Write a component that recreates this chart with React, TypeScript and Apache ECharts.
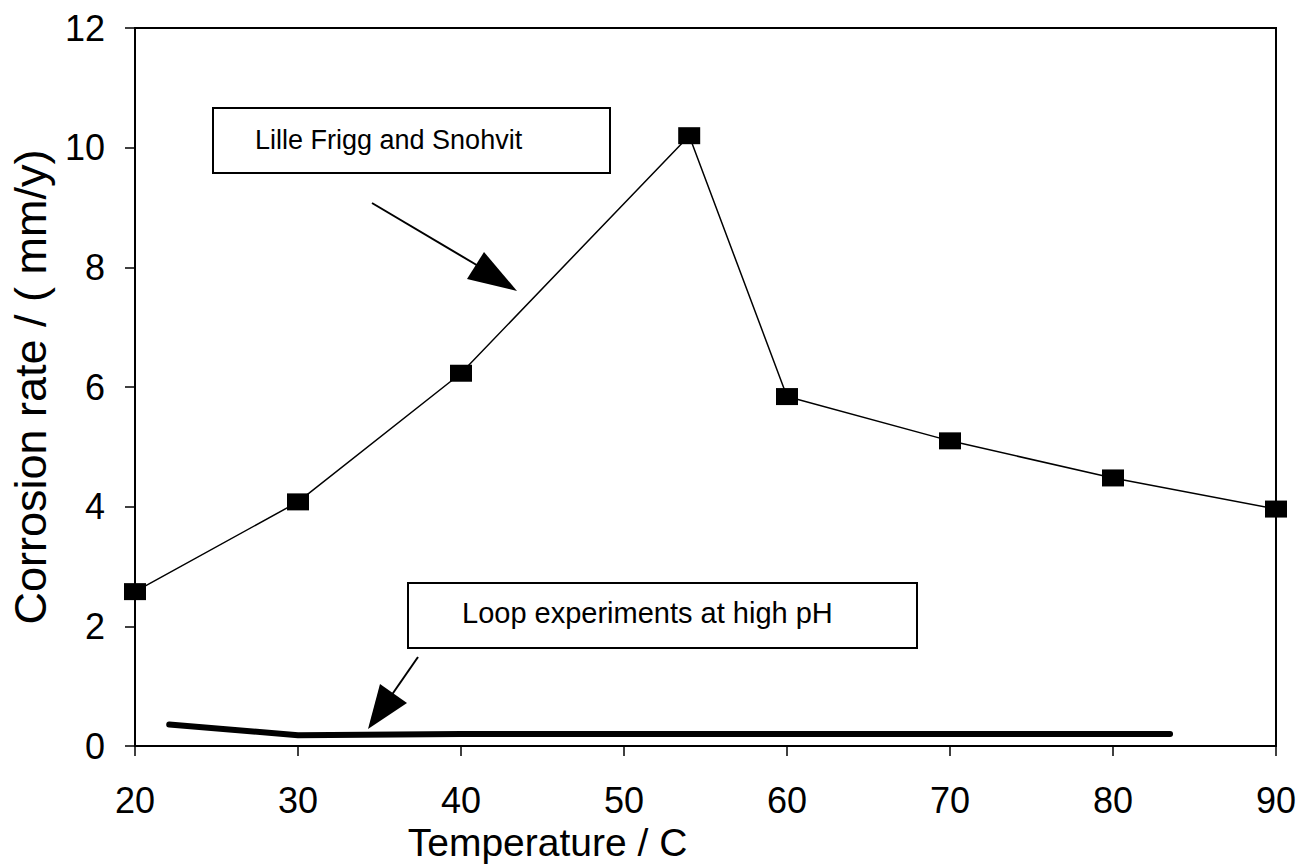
import React, { useEffect, useRef } from "react";
import * as echarts from "echarts";

// Data
const lilleFriggTemps = [20, 30, 40, 54, 60, 70, 80, 90];
const lilleFriggRates = [2.58, 4.08, 6.23, 10.2, 5.84, 5.1, 4.48, 3.96];

const loopTemps = [22.1, 30, 40, 83.5];
const loopRates = [0.36, 0.18, 0.2, 0.2];

const xTicks = { min: 20, max: 90, interval: 10 };
const yTicks = { min: 0, max: 12, interval: 2 };

const xName = "Temperature / C";
const yName = "Corrosion rate / ( mm/y)";
const note1 = "Lille Frigg and Snohvit";
const note2 = "Loop experiments at high pH";

const FONT = "'Liberation Sans', Arial, Helvetica, sans-serif";

export default function App() {
  const ref = useRef<HTMLDivElement>(null);

  useEffect(() => {
    if (!ref.current) return;
    const chart = echarts.init(ref.current, undefined, { renderer: "svg" });

    const series1 = lilleFriggTemps.map((t, i) => [t, lilleFriggRates[i]]);
    const series2 = loopTemps.map((t, i) => [t, loopRates[i]]);

    chart.setOption({
      animation: false,
      backgroundColor: "#fff",
      grid: {
        left: 132,
        top: 28,
        right: 24,
        bottom: 121,
        show: true,
        borderColor: "#000",
        borderWidth: 2,
        backgroundColor: "transparent",
      },
      xAxis: {
        type: "value",
        min: xTicks.min,
        max: xTicks.max,
        interval: xTicks.interval,
        name: xName,
        nameLocation: "middle",
        nameGap: 63,
        nameTextStyle: {
          fontSize: 39,
          fontFamily: FONT,
          color: "#000",
          padding: [0, 316, 0, 0],
        },
        axisLine: { show: true, lineStyle: { color: "#000", width: 2 } },
        axisTick: { show: true, inside: false, length: 10, lineStyle: { color: "#000", width: 1.5 } },
        axisLabel: { fontSize: 36, fontFamily: FONT, color: "#000", margin: 36 },
        splitLine: { show: false },
      },
      yAxis: {
        type: "value",
        min: yTicks.min,
        max: yTicks.max,
        interval: yTicks.interval,
        name: yName,
        nameLocation: "middle",
        nameGap: 82,
        nameTextStyle: { fontSize: 45, fontFamily: FONT, color: "#000" },
        axisLine: { show: true, lineStyle: { color: "#000", width: 2 } },
        axisTick: { show: true, inside: false, length: 10, lineStyle: { color: "#000", width: 1.5 } },
        axisLabel: { fontSize: 36, fontFamily: FONT, color: "#000", margin: 30 },
        splitLine: { show: false },
      },
      series: [
        {
          type: "line",
          name: note1,
          data: series1,
          symbol: "rect",
          symbolSize: [22, 17],
          showSymbol: true,
          itemStyle: { color: "#000" },
          lineStyle: { color: "#000", width: 1.5 },
          z: 3,
        },
        {
          type: "line",
          name: note2,
          data: series2,
          symbol: "none",
          lineStyle: { color: "#000", width: 6, cap: "round", join: "round" },
          z: 2,
        },
      ],
      graphic: [
        // Annotation 1 box
        {
          type: "rect",
          shape: { x: 213, y: 108, width: 397, height: 65 },
          style: { fill: "#fff", stroke: "#000", lineWidth: 2 },
          z: 10,
        },
        {
          type: "text",
          x: 255,
          y: 140,
          style: { text: note1, fontSize: 27, fontFamily: FONT, fill: "#000", verticalAlign: "middle" },
          z: 11,
        },
        {
          type: "line",
          shape: { x1: 372, y1: 203, x2: 480, y2: 267 },
          style: { stroke: "#000", lineWidth: 2 },
          z: 10,
        },
        {
          type: "polygon",
          shape: { points: [[484, 252], [467, 279], [517, 291]] },
          style: { fill: "#000" },
          z: 10,
        },
        // Annotation 2 box
        {
          type: "rect",
          shape: { x: 408, y: 583, width: 509, height: 65 },
          style: { fill: "#fff", stroke: "#000", lineWidth: 2 },
          z: 10,
        },
        {
          type: "text",
          x: 462,
          y: 613,
          style: { text: note2, fontSize: 29, fontFamily: FONT, fill: "#000", verticalAlign: "middle" },
          z: 11,
        },
        {
          type: "line",
          shape: { x1: 418, y1: 657, x2: 391, y2: 696 },
          style: { stroke: "#000", lineWidth: 2 },
          z: 10,
        },
        {
          type: "polygon",
          shape: { points: [[380, 684], [407, 703], [368, 729]] },
          style: { fill: "#000" },
          z: 10,
        },
      ],
    });

    return () => {
      chart.dispose();
    };
  }, []);

  return (
    <div
      ref={ref}
      style={{ position: "fixed", left: 0, top: 0, width: 1300, height: 867, background: "#fff" }}
    />
  );
}
